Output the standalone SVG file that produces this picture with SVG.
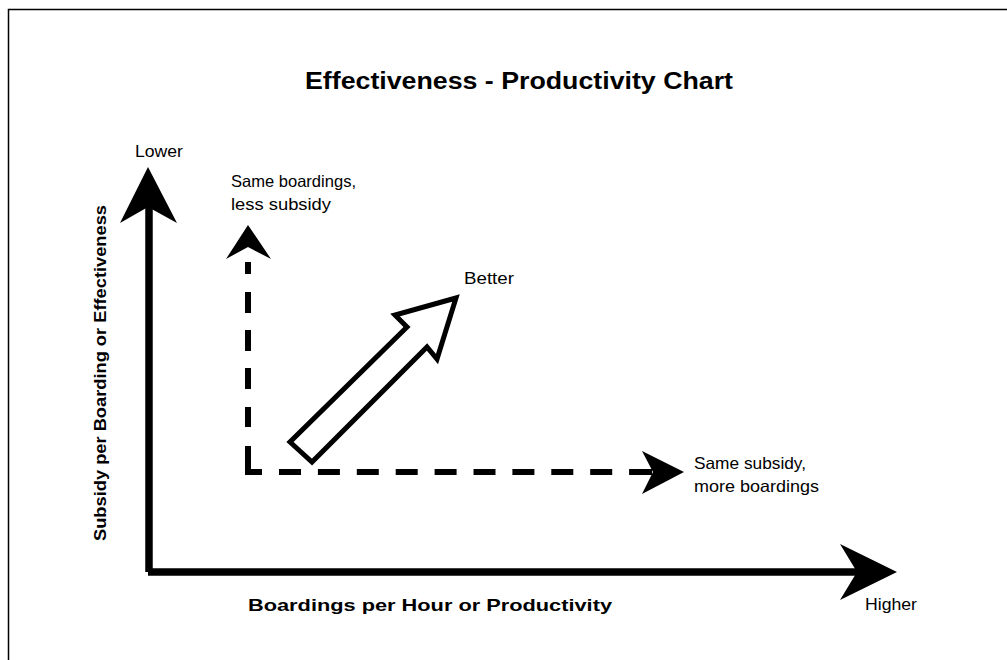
<svg xmlns="http://www.w3.org/2000/svg" width="1007" height="660" viewBox="0 0 1007 660">
  <style>
    .frame { fill: none; stroke: #000; stroke-width: 1.5; }
    .axis { fill: none; stroke: #000; stroke-width: 7.5; stroke-linecap: butt; }
    .dash { fill: none; stroke: #000; stroke-width: 6; stroke-linejoin: miter; }
    .head { fill: #000; stroke: none; }
    .hollow { fill: #fff; stroke: #000; stroke-width: 5; stroke-linejoin: miter; }
    .lbl { font-family: "Liberation Sans", Arial, sans-serif; font-size: 16.5px; fill: #000; }
    .bold { font-family: "Liberation Sans", Arial, sans-serif; font-size: 17px; font-weight: bold; fill: #000; }
    .title { font-family: "Liberation Sans", Arial, sans-serif; font-size: 23px; font-weight: bold; fill: #000; }
  </style>

  <rect width="1007" height="660" fill="#fff"/>
  <!-- page frame (top and left edges only) -->
  <path class="frame" d="M8.5,660 V9.5 H1007"/>

  <text class="title" x="305" y="89" textLength="428" lengthAdjust="spacingAndGlyphs">Effectiveness - Productivity Chart</text>

  <g id="connectors">
    <!-- vertical axis -->
    <path class="axis" d="M149,572 V205"/>
    <polygon class="head" points="148,167 177,223 148,207 120,223"/>
    <!-- horizontal axis -->
    <path class="axis" d="M148,572 H860"/>
    <polygon class="head" points="897,572 840,544 857,572 840,600"/>
    <!-- dashed L: same boardings / same subsidy -->
    <path class="dash" d="M248,262 V472 H652" stroke-dasharray="12 18 21 17 21 17 21 18 20 19 40 17 22 16.9 22 16.9 22 16.9 22 16.9 22 16.9 22 16.9 22 16.9 22 16.9 22 16.9 40"/>
    <polygon class="head" points="248,225 271,259 248,247 226,259"/>
    <polygon class="head" points="684,472 642,451 653,472 642,494"/>
  </g>

  <g id="better-arrow">
    <polygon class="hollow" points="290,442 312,462 427,347 437,359 456,298 395,315 407,327"/>
  </g>

  <g id="axis-labels">
    <text class="bold" x="248" y="611" textLength="364" lengthAdjust="spacingAndGlyphs">Boardings per Hour or Productivity</text>
    <text class="bold" transform="translate(106,541) rotate(-90)" textLength="336" lengthAdjust="spacingAndGlyphs">Subsidy per Boarding or Effectiveness</text>
  </g>

  <g id="lower">
    <text class="lbl" x="135" y="157" textLength="48" lengthAdjust="spacingAndGlyphs">Lower</text>
  </g>
  <g id="higher">
    <text class="lbl" x="865" y="610" textLength="52" lengthAdjust="spacingAndGlyphs">Higher</text>
  </g>
  <g id="same-boardings">
    <text class="lbl" x="231" y="187" textLength="125" lengthAdjust="spacingAndGlyphs">Same boardings,</text>
    <text class="lbl" x="231" y="210" textLength="100" lengthAdjust="spacingAndGlyphs">less subsidy</text>
  </g>
  <g id="better">
    <text class="lbl" x="464" y="284" textLength="50" lengthAdjust="spacingAndGlyphs">Better</text>
  </g>
  <g id="same-subsidy">
    <text class="lbl" x="694" y="469" textLength="112" lengthAdjust="spacingAndGlyphs">Same subsidy,</text>
    <text class="lbl" x="694" y="492" textLength="125" lengthAdjust="spacingAndGlyphs">more boardings</text>
  </g>
</svg>
